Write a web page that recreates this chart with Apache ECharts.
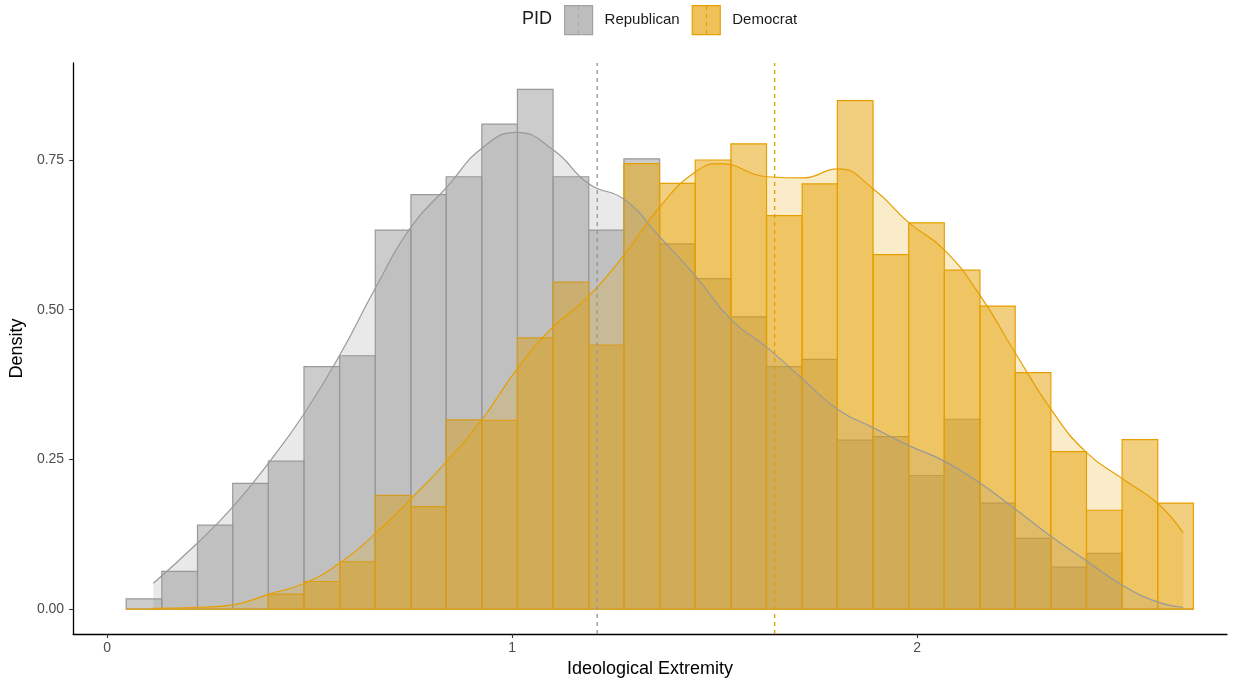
<!DOCTYPE html>
<html>
<head>
<meta charset="utf-8">
<title>Ideological Extremity by PID</title>
<script src="https://cdn.jsdelivr.net/npm/echarts@6/dist/echarts.min.js"></script>
<style>
  html, body { margin: 0; padding: 0; background: #ffffff; }
  #chart { width: 1245px; height: 683px; }
</style>
</head>
<body>
<div id="chart"></div>
<script>
// Histogram bin edges (30 bins) on the Ideological Extremity scale
const binEdges = [0.047, 0.135, 0.223, 0.310, 0.398, 0.486, 0.574, 0.662, 0.750, 0.837,
  0.925, 1.013, 1.101, 1.189, 1.276, 1.364, 1.452, 1.540, 1.628, 1.716,
  1.803, 1.891, 1.979, 2.067, 2.155, 2.242, 2.330, 2.418, 2.506, 2.594, 2.682];

// Histogram densities per bin
const republicanHist = [0.017, 0.063, 0.140, 0.210, 0.247, 0.405, 0.423, 0.633, 0.692, 0.722,
  0.810, 0.868, 0.722, 0.633, 0.752, 0.610, 0.552, 0.488, 0.405, 0.417,
  0.282, 0.288, 0.223, 0.317, 0.177, 0.118, 0.070, 0.093, 0.000, 0.000];
const democratHist = [0.000, 0.000, 0.000, 0.000, 0.025, 0.046, 0.079, 0.190, 0.171, 0.316,
  0.315, 0.453, 0.546, 0.441, 0.744, 0.711, 0.750, 0.777, 0.657, 0.710,
  0.849, 0.592, 0.645, 0.566, 0.506, 0.395, 0.263, 0.165, 0.283, 0.177];

// Kernel density estimates: [extremity, density]
const republicanKde = [[0.114, 0.043], [0.221, 0.109], [0.312, 0.172], [0.402, 0.247], [0.487, 0.327],
  [0.575, 0.425], [0.663, 0.537], [0.750, 0.638], [0.839, 0.705], [0.926, 0.770],
  [1.011, 0.796], [1.101, 0.767], [1.190, 0.710],
  [1.277, 0.684], [1.365, 0.621], [1.452, 0.557], [1.541, 0.483], [1.629, 0.437],
  [1.716, 0.385], [1.805, 0.333], [1.891, 0.303], [1.980, 0.273], [2.067, 0.247], [2.156, 0.210],
  [2.242, 0.167], [2.331, 0.121], [2.417, 0.081], [2.506, 0.040], [2.593, 0.012], [2.657, 0.003]];
const democratKde = [[0.114, 0.001], [0.230, 0.003], [0.311, 0.007], [0.400, 0.025], [0.487, 0.043],
  [0.575, 0.077], [0.662, 0.126], [0.750, 0.184], [0.839, 0.247], [0.926, 0.317], [1.011, 0.400],
  [1.101, 0.471], [1.190, 0.523], [1.277, 0.592], [1.365, 0.672], [1.452, 0.730], [1.514, 0.744],
  [1.629, 0.722], [1.716, 0.720], [1.805, 0.735],
  [1.891, 0.702], [1.980, 0.645], [2.067, 0.600], [2.156, 0.523], [2.242, 0.428], [2.331, 0.333],
  [2.417, 0.262], [2.506, 0.218], [2.593, 0.177], [2.657, 0.127]];

// Group means
const republicanMean = 1.210;
const democratMean = 1.648;

const xTicks = [0, 1, 2];
const yTicks = [0, 0.25, 0.5, 0.75];

const X_MIN = -0.084, X_MAX = 2.765;
const Y_MIN = -0.0417, Y_MAX = 0.912;

const GREY = '#999999';
const ORANGE = '#E69F00';
const FONT = '"Liberation Sans", Arial, Helvetica, sans-serif';

function histData(hist) {
  return hist.map((h, i) => [binEdges[i], binEdges[i + 1], h]);
}

function barRenderer(fill, stroke) {
  return function (params, api) {
    const x0 = api.value(0), x1 = api.value(1), h = api.value(2);
    const topLeft = api.coord([x0, h]);
    const bottomRight = api.coord([x1, 0]);
    return {
      type: 'rect',
      shape: {
        x: topLeft[0],
        y: topLeft[1],
        width: bottomRight[0] - topLeft[0],
        height: bottomRight[1] - topLeft[1]
      },
      style: { fill: fill, stroke: stroke, lineWidth: 1.2 }
    };
  };
}

function densitySeries(name, data, color, fill) {
  return {
    name: name,
    type: 'line',
    data: data,
    showSymbol: false,
    smooth: 0.5,
    lineStyle: { color: color, width: 1.2 },
    areaStyle: { color: fill }
  };
}

function meanSeries(name, value, color) {
  return {
    name: name,
    type: 'line',
    data: [[value, Y_MIN], [value, Y_MAX]],
    showSymbol: false,
    silent: true,
    lineStyle: { color: color, width: 1.4, type: [4, 4] }
  };
}

const chart = echarts.init(document.getElementById('chart'), null, { renderer: 'canvas' });

chart.setOption({
  animation: false,
  backgroundColor: '#ffffff',
  textStyle: { fontFamily: FONT },
  title: {
    text: 'PID',
    left: 522,
    top: 10,
    padding: 0,
    textStyle: { fontFamily: FONT, fontSize: 18, fontWeight: 'normal', color: '#1a1a1a' }
  },
  legend: {
    left: 564,
    top: 5,
    padding: 0,
    itemWidth: 28,
    itemHeight: 29,
    itemGap: 12,
    icon: 'rect',
    selectedMode: false,
    textStyle: { fontFamily: FONT, fontSize: 15, color: '#1a1a1a', padding: [0, 0, 0, 7] },
    data: [
      { name: 'Republican', itemStyle: { color: '#BDBDBD', borderColor: '#A3A3A3', borderWidth: 1.2 } },
      { name: 'Democrat', itemStyle: { color: '#EEC15A', borderColor: ORANGE, borderWidth: 1.2 } }
    ]
  },
  graphic: [
    {
      type: 'line', silent: true, z: 100,
      shape: { x1: 578.5, y1: 6, x2: 578.5, y2: 34 },
      style: { stroke: '#A8A8A8', lineWidth: 1.1, lineDash: [4, 4] }
    },
    {
      type: 'line', silent: true, z: 100,
      shape: { x1: 706.5, y1: 6, x2: 706.5, y2: 34 },
      style: { stroke: ORANGE, lineWidth: 1.1, lineDash: [4, 4] }
    }
  ],
  grid: { left: 73, right: 18, top: 63, bottom: 47, containLabel: false },
  xAxis: {
    type: 'value',
    min: X_MIN,
    max: X_MAX,
    name: 'Ideological Extremity',
    nameLocation: 'middle',
    nameGap: 26,
    nameTextStyle: { fontFamily: FONT, fontSize: 18, color: '#000000' },
    axisLine: { show: true, onZero: false, lineStyle: { color: '#000000', width: 1.3 } },
    axisTick: { show: true, length: 4, customValues: xTicks, lineStyle: { color: '#333333', width: 1.1 } },
    axisLabel: { customValues: xTicks, margin: 7, fontSize: 14, color: '#4D4D4D', fontFamily: FONT },
    splitLine: { show: false }
  },
  yAxis: {
    type: 'value',
    min: Y_MIN,
    max: Y_MAX,
    name: 'Density',
    nameLocation: 'middle',
    nameRotate: 90,
    nameGap: 44,
    nameTextStyle: { fontFamily: FONT, fontSize: 18, color: '#000000' },
    axisLine: { show: true, onZero: false, lineStyle: { color: '#000000', width: 1.3 } },
    axisTick: { show: true, length: 4, customValues: yTicks, lineStyle: { color: '#333333', width: 1.1 } },
    axisLabel: {
      customValues: yTicks,
      margin: 9,
      fontSize: 14,
      color: '#4D4D4D',
      fontFamily: FONT,
      formatter: v => v.toFixed(2)
    },
    splitLine: { show: false }
  },
  series: [
    {
      name: 'Republican',
      type: 'custom',
      renderItem: barRenderer('rgba(153,153,153,0.5)', GREY),
      encode: { x: [0, 1], y: 2 },
      data: histData(republicanHist)
    },
    {
      name: 'Democrat',
      type: 'custom',
      renderItem: barRenderer('rgba(230,159,0,0.5)', ORANGE),
      encode: { x: [0, 1], y: 2 },
      data: histData(democratHist)
    },
    densitySeries('Republican density', republicanKde, GREY, 'rgba(153,153,153,0.3)'),
    densitySeries('Democrat density', democratKde, ORANGE, 'rgba(230,159,0,0.3)'),
    meanSeries('Republican mean', republicanMean, GREY),
    meanSeries('Democrat mean', democratMean, ORANGE)
  ]
});
</script>
</body>
</html>
